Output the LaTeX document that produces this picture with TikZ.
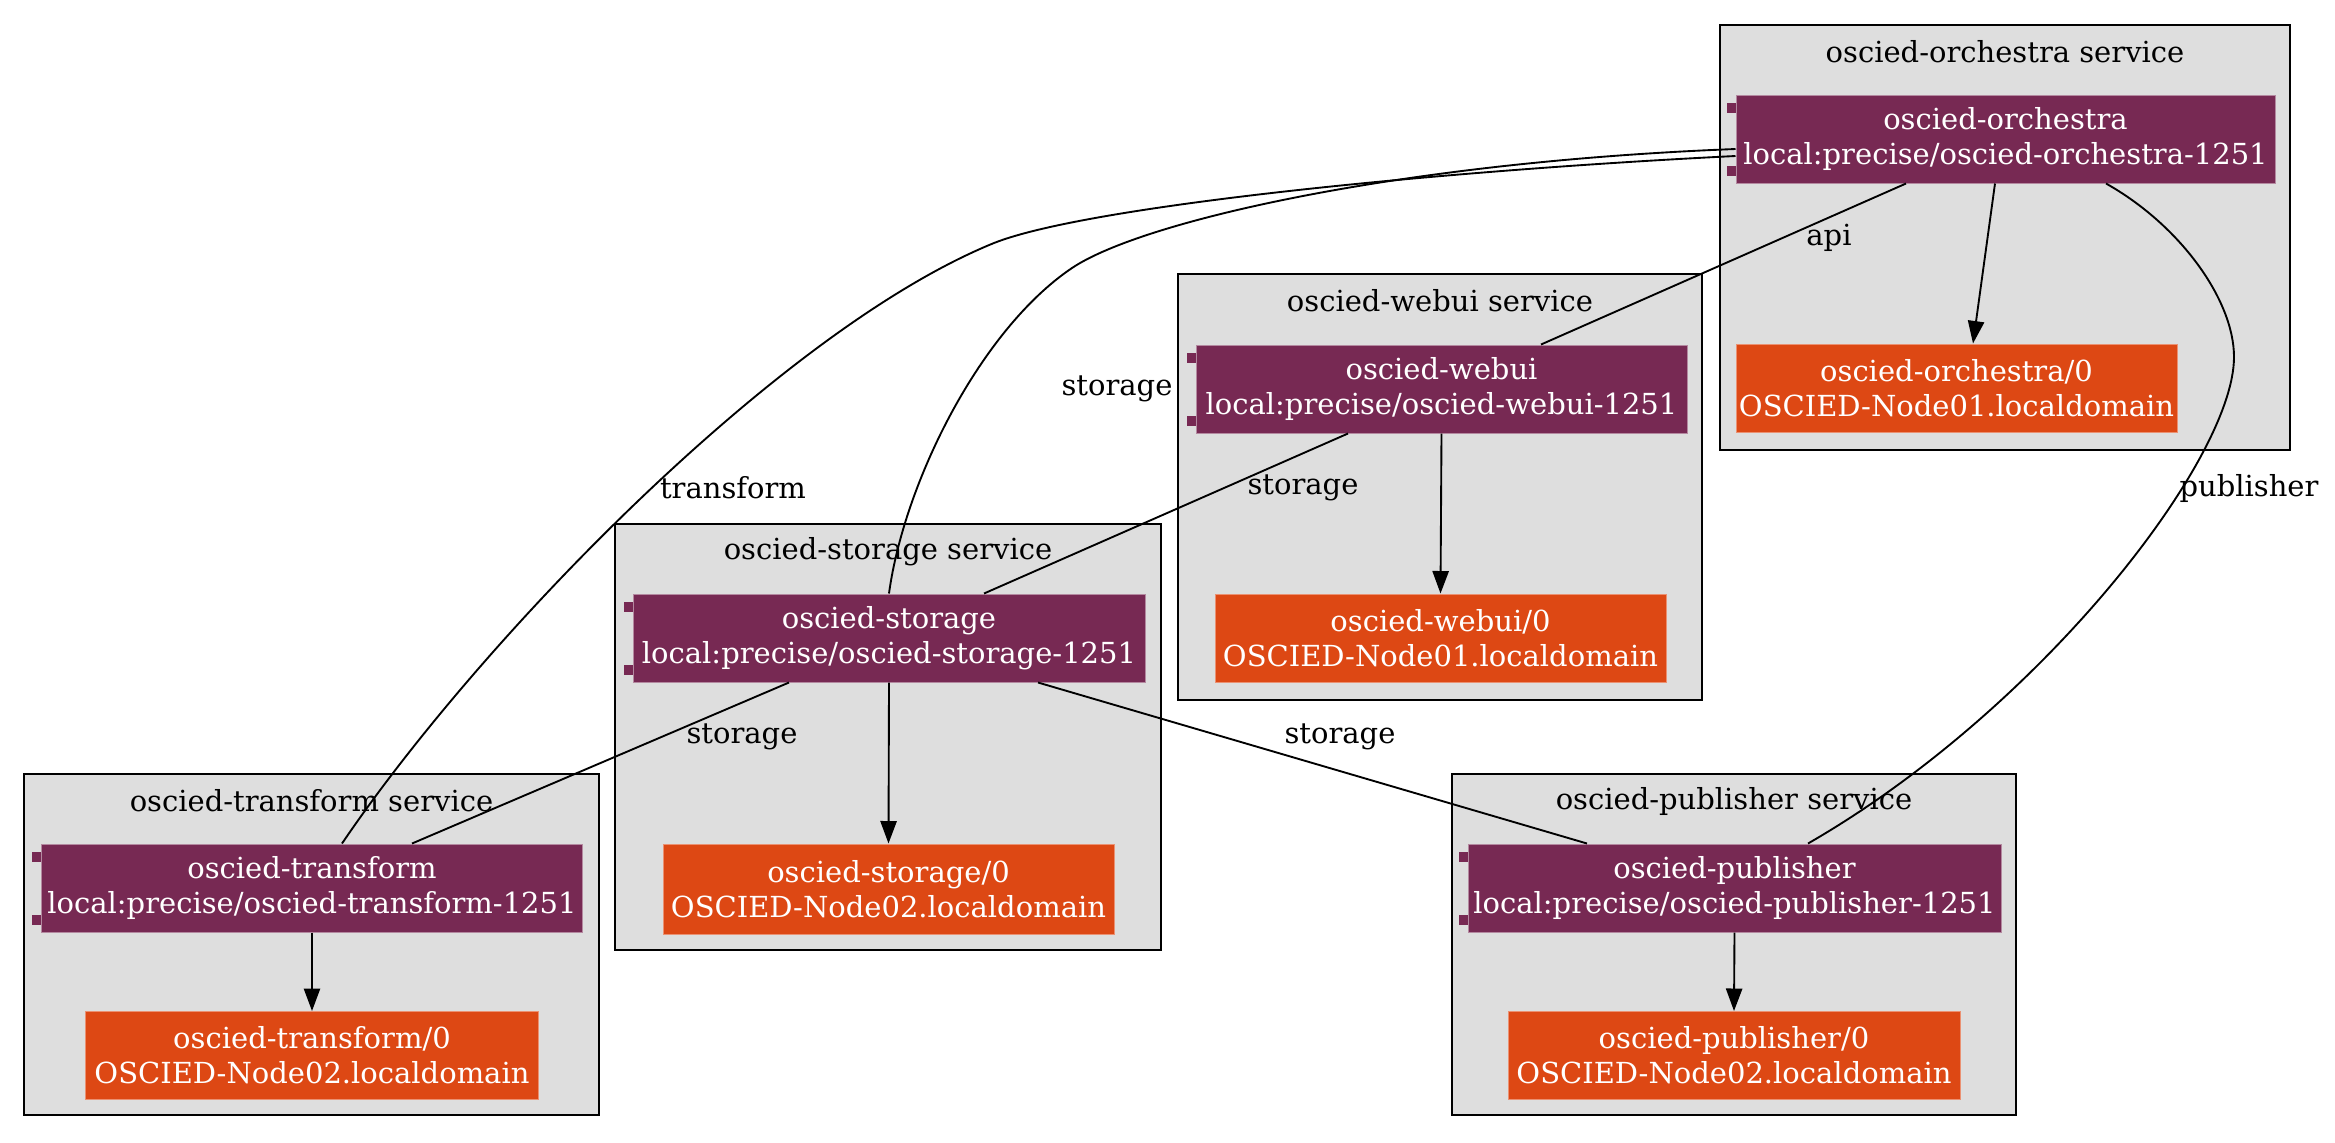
\documentclass[tikz,border=0pt]{standalone}
\usepackage{fontspec}
\setmainfont{DejaVu Serif}
\usetikzlibrary{arrows.meta,calc}
\definecolor{aubergine}{HTML}{772953}
\definecolor{ubuorange}{HTML}{DD4814}
\definecolor{clustergrey}{HTML}{DEDEDE}
\tikzset{>={Triangle[length=9pt,width=6.5pt]}}
\tikzset{
  gvfont/.style={font=\fontsize{11.6}{14}\selectfont},
  cluster/.style={draw=black, fill=clustergrey, line width=0.8pt},
  clusterlbl/.style={gvfont, inner sep=0pt},
  charm/.style={gvfont, fill=aubergine, draw=aubergine!55!white, line width=0.4pt,
    text=white, align=center, inner sep=0pt, minimum height=35.2pt},
  unit/.style={charm, fill=ubuorange, draw=ubuorange!60!white},
  rel/.style={line width=0.75pt},
  edgelbl/.style={gvfont, inner sep=0pt},
}

\begin{document}
\begin{tikzpicture}[x=0.4pt, y=-0.4pt]

  \useasboundingbox (0,0) rectangle (2335,1142);

  %% service clusters
  \draw[cluster] (1720,25) rectangle (2290,450);
  \draw[cluster] (1178,274) rectangle (1702,700);
  \draw[cluster] (615,524) rectangle (1161,950);
  \draw[cluster] (24,774) rectangle (599,1115);
  \draw[cluster] (1452,774) rectangle (2016,1115);

  \node[clusterlbl] (corch)  at (2005,52)  {oscied-orchestra service};
  \node[clusterlbl] (cwebui) at (1440,301) {oscied-webui service};
  \node[clusterlbl] (cstor)  at (888,552)  {oscied-storage service};
  \node[clusterlbl] (ctrans) at (311.5,801) {oscied-transform service};
  \node[clusterlbl] (cpub)   at (1734,801) {oscied-publisher service};

  %% charms
  \node[charm, minimum width=215.6pt] (orch)  at (2005.5,139) {oscied-orchestra\\local:precise/oscied-orchestra-1251};
  \node[charm, minimum width=196.4pt] (webui) at (1441.5,389) {oscied-webui\\local:precise/oscied-webui-1251};
  \node[charm, minimum width=204.8pt] (stor)  at (889,638)    {oscied-storage\\local:precise/oscied-storage-1251};
  \node[charm, minimum width=216pt]   (trans) at (312,888)    {oscied-transform\\local:precise/oscied-transform-1251};
  \node[charm, minimum width=213.2pt] (pub)   at (1734.5,888) {oscied-publisher\\local:precise/oscied-publisher-1251};

  % component tabs
  \foreach \n in {orch,webui,stor,trans,pub} {
    \fill[aubergine] ($(\n.north west)+(-9,8)$) rectangle ($(\n.north west)+(0,18)$);
    \fill[aubergine] ($(\n.south west)+(-9,-8)$) rectangle ($(\n.south west)+(0,-18)$);
  }

  %% units
  \node[unit, minimum width=176.4pt] (orchu)  at (1956.5,388)  {oscied-orchestra/0\\OSCIED-Node01.localdomain};
  \node[unit, minimum width=180.4pt] (webuiu) at (1440.5,638)  {oscied-webui/0\\OSCIED-Node01.localdomain};
  \node[unit, minimum width=180.4pt, minimum height=36pt] (storu) at (888.5,889) {oscied-storage/0\\OSCIED-Node02.localdomain};
  \node[unit, minimum width=180.8pt] (transu) at (312,1055.5)  {oscied-transform/0\\OSCIED-Node02.localdomain};
  \node[unit, minimum width=180.8pt] (pubu)   at (1734,1055.5) {oscied-publisher/0\\OSCIED-Node02.localdomain};

  %% charm -> unit
  \draw[->,rel] ($(orch.south)+(-10.5,0)$) -- ($(orchu.north)+(16.5,0)$);
  \draw[->,rel] (webui.south) -- (webuiu.north);
  \draw[->,rel] (stor.south) -- (storu.north);
  \draw[->,rel] (trans.south) -- (transu.north);
  \draw[->,rel] (pub.south) -- (pubu.north);

  %% relations
  \draw[rel] ($(orch.south)+(-99.5,0)$) -- ($(webui.north)+(99.5,0)$); % api
  \draw[rel] ($(webui.south)+(-93.5,0)$) -- ($(stor.north)+(95,0)$); % storage
  \draw[rel] ($(stor.south)+(-100,0)$) -- ($(trans.north)+(100,0)$); % storage
  \draw[rel] ($(stor.south)+(149,0)$) -- ($(pub.north)+(-147.5,0)$); % storage
  \draw[rel] ($(orch.west)+(0,10)$) .. controls (1400,162) and (1142,221) .. (1072,268)
    .. controls (980,330) and (904,483) .. (stor.north); % storage
  \draw[rel] ($(orch.west)+(0,17)$) .. controls (1450,170) and (1090,205) .. (994,243)
    .. controls (780,330) and (480,640) .. ($(trans.north)+(30,0)$); % transform
  \draw[rel] ($(orch.south)+(100.5,0)$) .. controls (2180,225) and (2234,300) .. (2234,357)
    .. controls (2234,460) and (2040,710) .. ($(pub.north)+(73.5,0)$); % publisher

  \node[edgelbl] (lapi) at (1829,238) {api};
  \node[edgelbl] (lws)  at (1303,488) {storage};
  \node[edgelbl] (los)  at (1117,389) {storage};
  \node[edgelbl] (lot)  at (733,488)  {transform};
  \node[edgelbl] (lst)  at (742,737)  {storage};
  \node[edgelbl] (lsp)  at (1340,737) {storage};
  \node[edgelbl] (lop)  at (2249,488) {publisher};

\end{tikzpicture}
\end{document}
